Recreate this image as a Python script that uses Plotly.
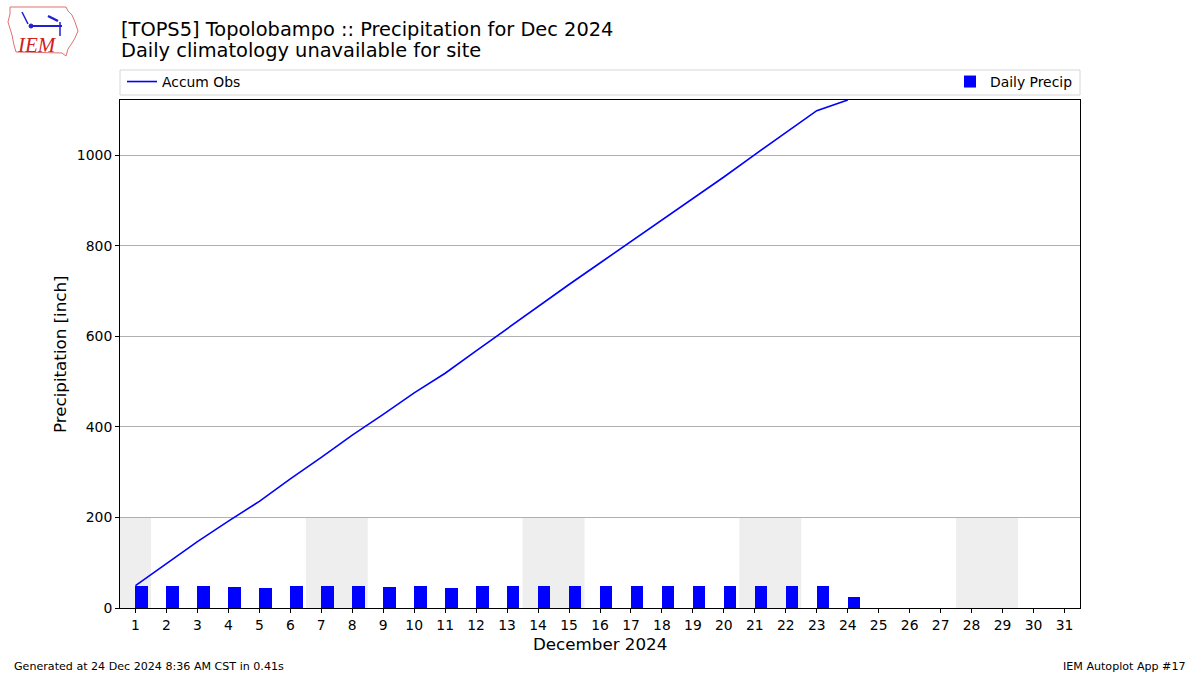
import plotly.graph_objects as go
import numpy as np

# ---- data ----
days = list(range(1, 32))
obs_days = list(range(1, 25))
daily_precip = [49.5, 49.5, 47.5, 45.5, 43.5, 49.5, 47.5, 49.5, 45.5, 47.5,
                43.5, 49.5, 49.5, 47.5, 49.5, 47.5, 47.5, 47.5, 47.5, 47.5,
                49.5, 49.5, 47.5, 23.5]
weekend_days = [1, 7, 8, 14, 15, 21, 22, 28, 29]
title_line1 = "[TOPS5] Topolobampo :: Precipitation for Dec 2024"
title_line2 = "Daily climatology unavailable for site"
footer_left = "Generated at 24 Dec 2024 8:36 AM CST in 0.41s"
footer_right = "IEM Autoplot App #17"

accum = list(np.cumsum(daily_precip))

W, H = 1200, 675
L, R, T, B = 120, 1080, 100, 608
FONT = "DejaVu Sans"


def px(x):
    return (x - L) / (R - L)


def py(y):
    return (B - y) / (B - T)


fig = go.Figure()

fig.add_trace(go.Bar(
    x=obs_days, y=daily_precip, width=0.4, offset=0,
    marker=dict(color="#0000ff", line=dict(width=0)),
    name="Daily Precip", legend="legend2",
))
fig.add_trace(go.Scatter(
    x=obs_days, y=accum, mode="lines",
    line=dict(color="#0000ff", width=1.6),
    name="Accum Obs", legend="legend",
))

# merge consecutive weekend days into spans
spans = []
for d in weekend_days:
    if spans and spans[-1][1] == d - 1:
        spans[-1][1] = d
    else:
        spans.append([d, d])

shapes = []
for a, b in spans:
    shapes.append(dict(type="rect", xref="x", yref="y", x0=a - 0.5, x1=b + 0.5,
                       y0=0, y1=200, fillcolor="#eeeeee", line=dict(width=0),
                       layer="below"))

# legend frame
shapes.append(dict(type="rect", xref="paper", yref="paper",
                   x0=px(120), x1=px(1080), y0=py(95), y1=py(70),
                   line=dict(color="#d6d6d6", width=1), fillcolor="rgba(255,255,255,0.8)",
                   layer="below"))

# logo (approximate IEM Iowa outline)
outline = [(10, 7), (66, 7), (68, 11), (72, 15), (75, 22), (78, 31), (75, 38),
           (72, 43), (68, 49), (66, 56), (62, 53), (16, 52), (14, 45), (12, 35),
           (8, 22), (10, 14)]
path = "M " + " L ".join(f"{px(a):.5f},{py(b):.5f}" for a, b in outline) + " Z"
shapes.append(dict(type="path", xref="paper", yref="paper", path=path,
                   line=dict(color="#e07070", width=1)))
shapes.append(dict(type="line", xref="paper", yref="paper",
                   x0=px(31), x1=px(62), y0=py(26), y1=py(26),
                   line=dict(color="#2020d0", width=2)))
shapes.append(dict(type="circle", xref="paper", yref="paper",
                   x0=px(29), x1=px(33), y0=py(28), y1=py(24),
                   fillcolor="#2020d0", line=dict(color="#2020d0", width=1)))
shapes.append(dict(type="line", xref="paper", yref="paper",
                   x0=px(22), x1=px(28), y0=py(12), y1=py(24),
                   line=dict(color="#2020d0", width=1.5)))
shapes.append(dict(type="line", xref="paper", yref="paper",
                   x0=px(48), x1=px(58), y0=py(16), y1=py(21),
                   line=dict(color="#2020d0", width=2.5)))
shapes.append(dict(type="line", xref="paper", yref="paper",
                   x0=px(60), x1=px(60), y0=py(22), y1=py(36),
                   line=dict(color="#2020d0", width=1.5)))

annotations = [
    dict(text=title_line1, x=px(119), y=py(29), xref="paper", yref="paper",
         xanchor="left", yanchor="middle", showarrow=False,
         font=dict(family=FONT, size=19.4, color="black")),
    dict(text=title_line2, x=px(119), y=py(51), xref="paper", yref="paper",
         xanchor="left", yanchor="middle", showarrow=False,
         font=dict(family=FONT, size=19.4, color="black")),
    dict(text="December 2024", x=0.5, y=py(644), xref="paper", yref="paper",
         xanchor="center", yanchor="middle", showarrow=False,
         font=dict(family=FONT, size=16.7, color="black")),
    dict(text="Precipitation [inch]", x=px(60), y=py(354), xref="paper", yref="paper",
         xanchor="center", yanchor="middle", showarrow=False, textangle=-90,
         font=dict(family=FONT, size=16.7, color="black")),
    dict(text=footer_left, x=px(12), y=py(666), xref="paper", yref="paper",
         xanchor="left", yanchor="middle", showarrow=False,
         font=dict(family=FONT, size=11.1, color="black")),
    dict(text=footer_right, x=px(1188), y=py(666), xref="paper", yref="paper",
         xanchor="right", yanchor="middle", showarrow=False,
         font=dict(family=FONT, size=11.1, color="black")),
    dict(text="<i>IEM</i>", x=px(37), y=py(45), xref="paper", yref="paper",
         xanchor="center", yanchor="middle", showarrow=False,
         font=dict(family="Liberation Serif", size=21, color="#d02020")),
]

fig.update_layout(
    width=W, height=H,
    margin=dict(l=L, r=W - R, t=T, b=H - B, autoexpand=False),
    paper_bgcolor="white", plot_bgcolor="white",
    font=dict(family=FONT, size=13.9, color="black"),
    showlegend=True,
    legend=dict(x=px(122), y=py(82), xanchor="left", yanchor="middle",
                bgcolor="rgba(0,0,0,0)", font=dict(family=FONT, size=13.9)),
    legend2=dict(x=px(1078), y=py(82), xanchor="right", yanchor="middle",
                 bgcolor="rgba(0,0,0,0)", font=dict(family=FONT, size=13.9)),
    shapes=shapes, annotations=annotations,
    bargap=0,
)

fig.update_xaxes(
    range=[0.5, 31.5], tickmode="array", tickvals=days,
    ticktext=[str(d) for d in days],
    showgrid=False, zeroline=False, showline=True, linecolor="black",
    linewidth=1, mirror=True, ticks="outside", ticklen=4, tickcolor="black",
    tickfont=dict(family=FONT, size=13.9),
)
fig.update_yaxes(
    range=[0, accum[-1]], tickmode="array", tickvals=[0, 200, 400, 600, 800, 1000],
    showgrid=True, gridcolor="#b0b0b0", gridwidth=1, zeroline=False,
    showline=True, linecolor="black", linewidth=1, mirror=True,
    ticks="outside", ticklen=4, tickcolor="black",
    tickfont=dict(family=FONT, size=13.9),
)

fig.write_html("out.html", config={"displayModeBar": False},
               post_script="document.body.style.margin='0';")
